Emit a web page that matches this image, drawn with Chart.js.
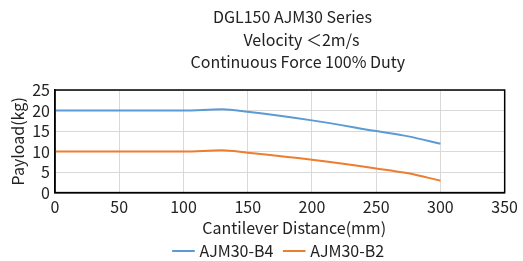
<!DOCTYPE html>
<html><head><meta charset="utf-8">
<script src="https://cdn.jsdelivr.net/npm/chart.js@4/dist/chart.umd.min.js"></script>
<style>html,body{margin:0;padding:0;background:#fff}#w{width:523px;height:261px}</style>
</head><body><div id="w"><canvas id="c"></canvas></div>
<script>
const titleLines = ["DGL150 AJM30 Series   ", "  Velocity \uFF1C2m/s", "Continuous Force 100% Duty"];
const distances = [0, 50, 100, 130, 150, 200, 250, 275, 300];
const seriesB4 = [20, 20, 20, 20.3, 19.7, 17.6, 15.0, 13.7, 11.9];
const seriesB2 = [10, 10, 10, 10.3, 9.7, 8.0, 5.9, 4.7, 2.9];
const seriesNames = ["AJM30-B4", "AJM30-B2"];
const xTicks = [0, 50, 100, 150, 200, 250, 300, 350];
const yTicks = [0, 5, 10, 15, 20, 25];
const FONT = "'Noto Sans CJK SC', 'Noto Sans', sans-serif";
const FS = 16;

const border = {
  id: 'border',
  afterDraw(chart) {
    const a = chart.chartArea, ctx = chart.ctx;
    ctx.save(); ctx.strokeStyle = '#000'; ctx.lineWidth = 1.5;
    ctx.strokeRect(a.left, a.top, a.right - a.left, a.bottom - a.top);
    ctx.fillStyle = '#222'; ctx.font = FS + 'px ' + FONT;
    ctx.textAlign = 'center'; ctx.textBaseline = 'middle';
    const cx = (a.left + a.right) / 2 + 18;
    titleLines.forEach((t, i) => ctx.fillText(t, cx, 17 + i * 22.5));
    ctx.restore();
  }
};

const mk = (arr) => distances.map((d, i) => ({x: d, y: arr[i]}));
new Chart(document.getElementById('c'), {
  type: 'line',
  data: { datasets: [
    { label: seriesNames[0], data: mk(seriesB4), borderColor: '#5b9bd5', backgroundColor: '#5b9bd5', borderWidth: 2, pointRadius: 0, cubicInterpolationMode: 'monotone' },
    { label: seriesNames[1], data: mk(seriesB2), borderColor: '#ed7d31', backgroundColor: '#ed7d31', borderWidth: 2, pointRadius: 0, cubicInterpolationMode: 'monotone' }
  ]},
  options: {
    responsive: true, maintainAspectRatio: false, animation: false,
    layout: { padding: { left: 8, right: 12, top: 90, bottom: -8 } },
    plugins: {
      title: { display: false },
      legend: { position: 'bottom', fullSize: false, labels: {
        usePointStyle: true, pointStyle: 'line', boxWidth: 25, color: '#222', font: { family: FONT, size: FS }, padding: 2,
        generateLabels: (chart) => Chart.defaults.plugins.legend.labels.generateLabels(chart).map((l, i) => Object.assign(l, { text: i === 0 ? l.text + '   ' : l.text }))
      } },
      tooltip: { enabled: false }
    },
    scales: {
      x: { type: 'linear', min: 0, max: 350,
        afterBuildTicks: (s) => { s.ticks = xTicks.map(v => ({value: v})); },
        ticks: { color: '#222', font: { family: FONT, size: FS }, padding: 5, maxRotation: 0, autoSkip: false },
        grid: { color: '#d9d9d9', drawTicks: false },
        border: { color: '#000', width: 1.5 },
        title: { display: true, text: '        Cantilever Distance(mm)', color: '#222', font: { family: FONT, size: FS }, padding: { top: -3, bottom: 3 } } },
      y: { min: 0, max: 25,
        afterBuildTicks: (s) => { s.ticks = yTicks.map(v => ({value: v})); },
        ticks: { color: '#222', font: { family: FONT, size: FS }, padding: 5, autoSkip: false },
        grid: { color: '#d9d9d9', drawTicks: false },
        border: { color: '#000', width: 1.5 },
        title: { display: true, text: 'Payload(kg)', color: '#222', font: { family: FONT, size: FS }, padding: { top: 0, bottom: 0 } } }
    }
  },
  plugins: [border]
});
</script></body></html>
